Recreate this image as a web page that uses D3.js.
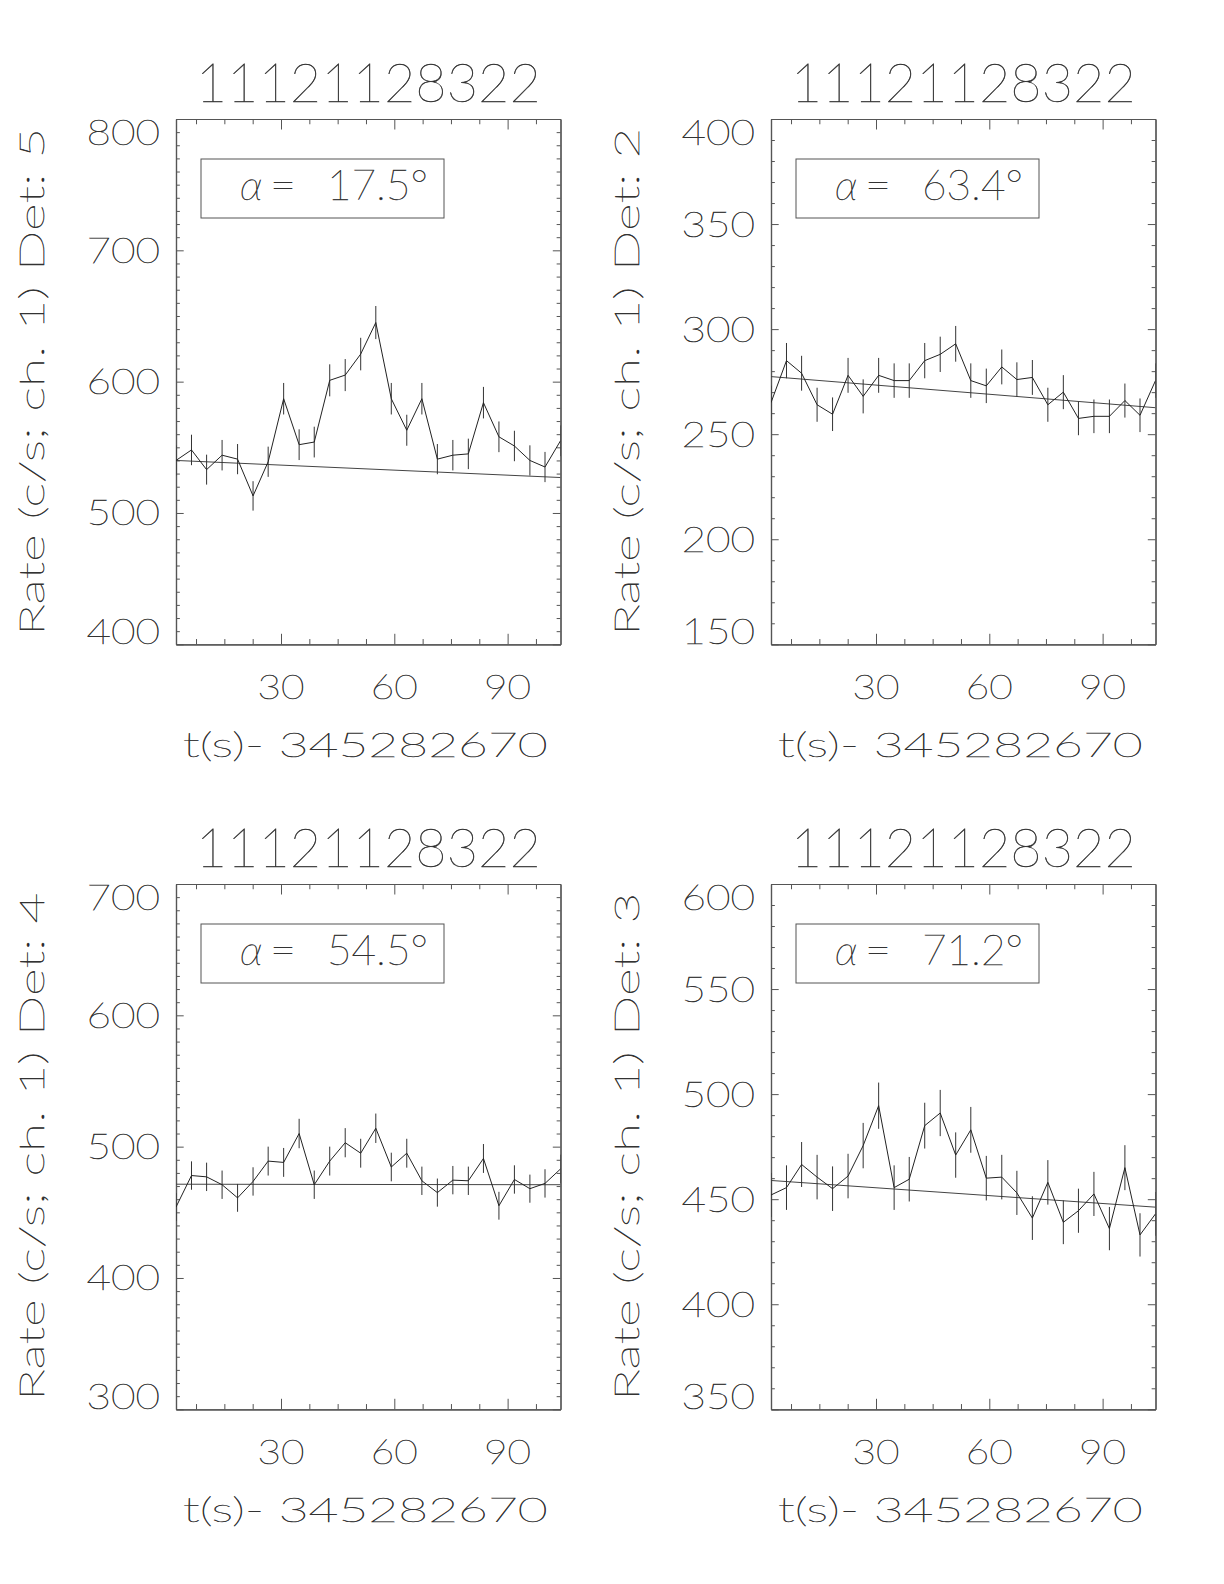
<!DOCTYPE html>
<html>
<head>
<meta charset="utf-8">
<script src="https://cdn.jsdelivr.net/npm/d3@7"></script>
<style>
  html, body { margin: 0; padding: 0; background: #fff; }
  svg text { font-family: "Lato", "Open Sans", "DejaVu Sans", sans-serif; font-weight: 100; fill: #222; stroke: #333; stroke-width: 0.45px; }
</style>
</head>
<body>
<svg id="chart" width="1224" height="1584"></svg>
<script>
// ---------------- data ----------------
const titles = ["11121128322", "11121128322", "11121128322", "11121128322"];
const detectors = ["5", "2", "4", "3"];
const alphas = ["17.5", "63.4", "54.5", "71.2"];
const xLabel = "t(s)- 345282670";
const xDomain = [2.2, 104.0];
const xTickValues = [30, 60, 90];

const times = [2.2, 6.3, 10.3, 14.4, 18.5, 22.6, 26.6, 30.7, 34.8, 38.8, 42.9, 47.0, 51.1,
               55.1, 59.2, 63.3, 67.3, 71.4, 75.5, 79.6, 83.6, 87.7, 91.8, 95.9, 99.9, 104.0];

const rateDet5 = [540, 548, 533, 544, 541, 513, 539, 587, 552, 554, 601, 605, 621,
                  645, 587, 563, 587, 541, 544, 545, 584, 558, 551, 540, 535, 555];
const errDet5  = [11.5, 11.6, 11.4, 11.6, 11.5, 11.2, 11.5, 12.0, 11.7, 11.7, 12.2, 12.2, 12.4,
                  12.6, 12.0, 11.8, 12.0, 11.5, 11.6, 11.6, 12.0, 11.7, 11.6, 11.5, 11.5, 11.7];
const fitDet5  = [540, 527];

const rateDet2 = [265, 285, 279, 264, 259.5, 278, 268, 278, 275.5, 275.5, 285, 288, 293,
                  275.5, 273, 282, 276, 277, 264, 270, 257.5, 258.5, 258.5, 266, 259, 275.5];
const errDet2  = [8.1, 8.4, 8.3, 8.1, 8.0, 8.3, 8.1, 8.3, 8.2, 8.2, 8.4, 8.4, 8.5,
                  8.2, 8.2, 8.3, 8.2, 8.3, 8.1, 8.1, 8.0, 8.0, 8.0, 8.1, 8.0, 8.2];
const fitDet2  = [277.4, 262.6];

const rateDet4 = [454, 478, 477, 471, 461, 473.5, 489, 488, 510, 471, 489, 503, 495,
                  514, 484.5, 495, 474, 465, 474.5, 474, 491, 455, 475, 468, 472, 483];
const errDet4  = [10.6, 10.8, 10.8, 10.8, 10.6, 10.8, 11.0, 11.0, 11.2, 10.8, 11.0, 11.1, 11.0,
                  11.2, 10.9, 11.0, 10.8, 10.7, 10.8, 10.8, 11.0, 10.6, 10.8, 10.7, 10.8, 10.9];
const fitDet4  = [471.4, 471.0];

const rateDet3 = [452, 455.5, 466.5, 460.5, 455, 461, 475.5, 494.5, 455.5, 459.5, 485, 491, 471,
                  483, 460, 460.5, 453, 441, 458, 439, 444.5, 452.5, 436, 465, 433, 443];
const errDet3  = [10.5, 10.6, 10.7, 10.6, 10.6, 10.6, 10.8, 11.0, 10.6, 10.6, 10.9, 11.0, 10.8,
                  10.9, 10.6, 10.6, 10.5, 10.4, 10.6, 10.4, 10.5, 10.5, 10.3, 10.7, 10.3, 10.4];
const fitDet3  = [458.9, 446.2];

const yDomains = [[400, 800], [150, 400], [300, 700], [350, 600]];
const yMajorSteps = [100, 50, 100, 50];
const yMinorSteps = [10, 10, 10, 10];
const xMinorStep = 7.5;

// ---------------- layout ----------------
const boxW = 384.5, boxH = 525.3;
const lefts = [176, 771, 176, 771];
const tops = [119, 119, 884, 884];

const panels = [
  {rates: rateDet5, errs: errDet5, fit: fitDet5},
  {rates: rateDet2, errs: errDet2, fit: fitDet2},
  {rates: rateDet4, errs: errDet4, fit: fitDet4},
  {rates: rateDet3, errs: errDet3, fit: fitDet3}
];

const svg = d3.select("#chart");
const axisColor = "#555";
const lineColor = "#222";

panels.forEach((p, i) => {
  const L = lefts[i], T = tops[i];
  const g = svg.append("g").attr("transform", `translate(${L},${T})`);
  const x = d3.scaleLinear().domain(xDomain).range([0, boxW]);
  const y = d3.scaleLinear().domain(yDomains[i]).range([boxH, 0]);

  const [y0, y1] = yDomains[i];
  const yMajors = d3.range(y0, y1 + 0.001, yMajorSteps[i]);
  const yMinors = d3.range(y0, y1 + 0.001, yMinorSteps[i]).filter(v => !yMajors.some(m => Math.abs(m - v) < 1e-6));
  const xMinors = d3.range(7.5, xDomain[1], xMinorStep).filter(v => v > xDomain[0] && !xTickValues.includes(v));

  const xMajLen = 0.02 * boxH, yMajLen = 0.02 * boxW;

  const addAxis = (axis, tr) => {
    const a = g.append("g").attr("transform", tr).call(axis);
    a.selectAll("text").remove();
    a.select(".domain").attr("stroke", axisColor).attr("stroke-width", 1.2);
    a.selectAll(".tick line").attr("stroke", axisColor).attr("stroke-width", 1);
    return a;
  };
  addAxis(d3.axisBottom(x).tickValues(xTickValues).tickSize(-xMajLen).tickSizeOuter(0), `translate(0,${boxH})`);
  addAxis(d3.axisBottom(x).tickValues(xMinors).tickSize(-xMajLen / 2).tickSizeOuter(0), `translate(0,${boxH})`);
  addAxis(d3.axisTop(x).tickValues(xTickValues).tickSize(-xMajLen).tickSizeOuter(0), `translate(0,0)`);
  addAxis(d3.axisTop(x).tickValues(xMinors).tickSize(-xMajLen / 2).tickSizeOuter(0), `translate(0,0)`);
  addAxis(d3.axisLeft(y).tickValues(yMajors).tickSize(-yMajLen).tickSizeOuter(0), `translate(0,0)`);
  addAxis(d3.axisLeft(y).tickValues(yMinors).tickSize(-yMajLen / 2).tickSizeOuter(0), `translate(0,0)`);
  addAxis(d3.axisRight(y).tickValues(yMajors).tickSize(-yMajLen).tickSizeOuter(0), `translate(${boxW},0)`);
  addAxis(d3.axisRight(y).tickValues(yMinors).tickSize(-yMajLen / 2).tickSizeOuter(0), `translate(${boxW},0)`);

  const capH = 25;
  yMajors.forEach(v => {
    const cy = Math.min(Math.max(y(v), capH / 2 + 1), boxH - capH / 2);
    g.append("text").attr("x", -16).attr("y", cy + capH / 2)
      .attr("text-anchor", "end").attr("font-size", 35)
      .attr("textLength", 24.5 * String(v).length).attr("lengthAdjust", "spacingAndGlyphs")
      .text(v);
  });
  xTickValues.forEach(v => {
    g.append("text").attr("x", x(v)).attr("y", boxH + 54.5)
      .attr("text-anchor", "middle").attr("font-size", 33)
      .attr("textLength", 47).attr("lengthAdjust", "spacingAndGlyphs")
      .text(v);
  });
  g.append("text").attr("x", boxW / 2 - 3).attr("y", boxH + 112.4)
    .attr("text-anchor", "middle").attr("font-size", 33)
    .attr("textLength", 365).attr("lengthAdjust", "spacingAndGlyphs")
    .text(xLabel);
  g.append("text").attr("x", boxW / 2).attr("y", -17)
    .attr("text-anchor", "middle").attr("font-size", 54)
    .attr("textLength", 345).attr("lengthAdjust", "spacingAndGlyphs")
    .text(titles[i]);
  g.append("text").attr("transform", `translate(-132,${boxH / 2}) rotate(-90)`)
    .attr("text-anchor", "middle").attr("font-size", 33)
    .attr("textLength", 508).attr("lengthAdjust", "spacingAndGlyphs")
    .text(`Rate (c/s; ch. 1) Det: ${detectors[i]}`);

  // alpha label box
  g.append("rect").attr("x", 25).attr("y", 40).attr("width", 243).attr("height", 59)
    .attr("fill", "none").attr("stroke", axisColor).attr("stroke-width", 1);
  g.append("text").attr("x", 64).attr("y", 81).attr("font-size", 42)
    .attr("font-style", "italic").text("α");
  g.append("text").attr("x", 94).attr("y", 81).attr("font-size", 42)
    .attr("textLength", 26).attr("lengthAdjust", "spacingAndGlyphs").text("=");
  g.append("text").attr("x", 151).attr("y", 81).attr("font-size", 42)
    .attr("textLength", 101).attr("lengthAdjust", "spacingAndGlyphs").text(`${alphas[i]}°`);

  const cid = `clip${i}`;
  g.append("clipPath").attr("id", cid).append("rect").attr("width", boxW).attr("height", boxH);
  const data = times.map((t, k) => ({t, r: p.rates[k], e: p.errs[k]}));
  const plot = g.append("g").attr("clip-path", `url(#${cid})`);

  plot.append("line")
    .attr("x1", x(xDomain[0])).attr("y1", y(p.fit[0]))
    .attr("x2", x(xDomain[1])).attr("y2", y(p.fit[1]))
    .attr("stroke", "#444").attr("stroke-width", 1);
  plot.selectAll("line.err").data(data).join("line").attr("class", "err")
    .attr("x1", d => x(d.t)).attr("x2", d => x(d.t))
    .attr("y1", d => y(d.r - d.e)).attr("y2", d => y(d.r + d.e))
    .attr("stroke", "#333").attr("stroke-width", 1);
  plot.append("path").datum(data)
    .attr("d", d3.line().x(d => x(d.t)).y(d => y(d.r)))
    .attr("fill", "none").attr("stroke", lineColor).attr("stroke-width", 1);
});
</script>
</body>
</html>
